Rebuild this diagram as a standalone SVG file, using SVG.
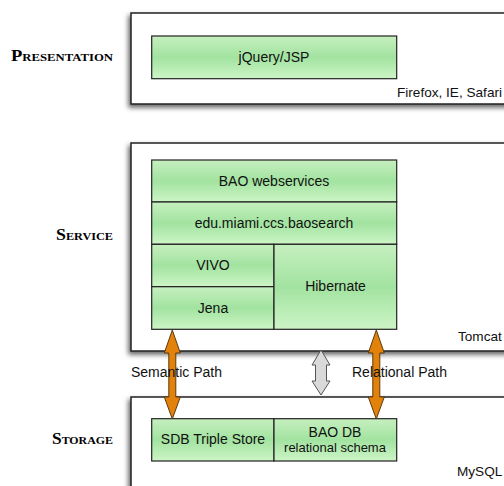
<svg xmlns="http://www.w3.org/2000/svg" width="504" height="486" viewBox="0 0 504 486">
<defs>
<linearGradient id="g" x1="0" y1="0" x2="0" y2="1">
<stop offset="0" stop-color="#c6efbf"/>
<stop offset="0.5" stop-color="#a2e3a0"/>
<stop offset="1" stop-color="#cdf5c6"/>
</linearGradient>
<filter id="sh" x="-10%" y="-20%" width="130%" height="150%">
<feDropShadow dx="-2" dy="3" stdDeviation="2.5" flood-color="#000" flood-opacity="0.6"/>
</filter>
<style>
.tier{fill:#fff;stroke:#222;stroke-width:1.5;filter:url(#sh)}
.box{fill:url(#g);stroke:#222;stroke-width:1.2}
.t{font-family:"Liberation Sans",Arial,sans-serif;font-size:14px;fill:#111;text-anchor:middle}
.s{font-family:"Liberation Sans",Arial,sans-serif;font-size:13.6px;fill:#111}
.p{font-family:"Liberation Sans",Arial,sans-serif;font-size:14px;fill:#111}
.lab{font-family:"Liberation Serif","Times New Roman",serif;font-size:16px;font-weight:bold;font-variant:small-caps;fill:#000;text-anchor:end}
.or{fill:#e3820a;stroke:#5a3a10;stroke-width:1}
.gr{fill:#d9d9d9;stroke:#555;stroke-width:1}
</style>
</defs>
<g id="presentation">
<rect class="tier" x="131" y="13" width="400" height="91"/>
<text class="lab" x="113" y="61" textLength="102" lengthAdjust="spacingAndGlyphs">Presentation</text>
<g id="jquery"><rect class="box" x="151.7" y="36" width="245" height="42.7"/><text class="t" x="274" y="62">jQuery/JSP</text></g>
<text class="s" x="397" y="97">Firefox, IE, Safari</text>
</g>
<g id="service">
<rect class="tier" x="131" y="143" width="400" height="208"/>
<text class="lab" x="113" y="240" textLength="57" lengthAdjust="spacingAndGlyphs">Service</text>
<g id="baows"><rect class="box" x="151.7" y="160" width="245" height="42"/><text class="t" x="274" y="186">BAO webservices</text></g>
<g id="baosearch"><rect class="box" x="151.7" y="202" width="245" height="42.3"/><text class="t" x="274" y="228">edu.miami.ccs.baosearch</text></g>
<g id="vivo"><rect class="box" x="151.7" y="244.3" width="122.3" height="42.4"/><text class="t" x="213" y="270">VIVO</text></g>
<g id="jena"><rect class="box" x="151.7" y="286.7" width="122.3" height="42.6"/><text class="t" x="213" y="313">Jena</text></g>
<g id="hibernate"><rect class="box" x="274" y="244.3" width="122.7" height="85"/><text class="t" x="335.5" y="291">Hibernate</text></g>
<text class="s" x="458" y="341">Tomcat</text>
</g>
<g id="storage">
<rect class="tier" x="131" y="397" width="400" height="120"/>
<text class="lab" x="113" y="444" textLength="61" lengthAdjust="spacingAndGlyphs">Storage</text>
<g id="sdb"><rect class="box" x="151.7" y="418.7" width="122.3" height="42.3"/><text class="t" x="213" y="444">SDB Triple Store</text></g>
<g id="baodb"><rect class="box" x="274" y="418.7" width="122.7" height="42.3"/><text class="t" x="335" y="437">BAO DB</text><text class="t" x="335" y="452" style="font-size:13px">relational schema</text></g>
<text class="s" x="457" y="476">MySQL</text>
</g>
<g id="connectors">
<polygon class="or" points="172.3,330 180.3,353 175.8,353 175.8,397 180.3,397 172.3,419 164.3,397 168.8,397 168.8,353 164.3,353"/>
<polygon class="or" points="376.3,330 384.3,353 379.8,353 379.8,397 384.3,397 376.3,419 368.3,397 372.8,397 372.8,353 368.3,353"/>
<polygon class="gr" points="321,350 330,365 326.5,365 326.5,381 330,381 321,395 312,381 315.5,381 315.5,365 312,365"/>
<text class="p" x="131" y="377">Semantic Path</text>
<text class="p" x="352" y="377">Relational Path</text>
</g>
</svg>
